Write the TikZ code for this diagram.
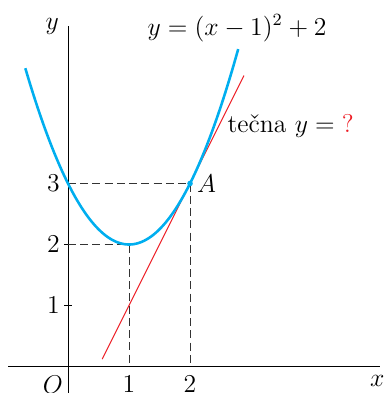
\documentclass[tikz,border=0pt]{standalone}
\usepackage{tikz}
\definecolor{curveblue}{RGB}{0,174,239}
\definecolor{tanred}{RGB}{237,28,36}
\begin{document}
\begin{tikzpicture}[x=1cm,y=1cm,
  axis/.style={line width=0.45pt,black},
  guide/.style={line width=0.45pt,black!80,dash pattern=on 3.7pt off 2pt},
  curve/.style={line width=1.2pt,curveblue},
  tangent/.style={line width=0.45pt,tanred},
  lab/.style={inner sep=0pt,font=\fontsize{12}{14}\selectfont}]
\useasboundingbox (-1.115,-0.434) rectangle (5.213,6.008);
% axes
\coordinate (xs) at (-0.98,0);
\coordinate (xe) at (5.11,0);
\coordinate (ys) at (0,-0.45);
\coordinate (ye) at (0,5.58);
\draw[axis] (xs) -- (xe);
\draw[axis] (ys) -- (ye);
% ticks
\draw[axis] (-0.06,1) -- (0.07,1);
\draw[axis] (-0.06,2) -- (0.07,2);
% guide points
\coordinate (P3) at (0,3);
\coordinate (P2) at (0,2);
\coordinate (V) at (1,2);
\coordinate (A) at (2,3);
\coordinate (X1) at (1,0);
\coordinate (X2) at (2,0);
\draw[guide] (P3) -- (A) -- (X2);
\draw[guide] (P2) -- (V) -- (X1);
% tangent
\draw[tangent,domain=0.56:2.885] plot (\x,{2*\x-1});
% parabola
\draw[curve,domain=-0.7:2.79,samples=80,smooth] plot (\x,{(\x-1)^2+2});
\fill[curveblue] (A) circle (1.3pt);
% labels
\node[lab] (ylab) at (-0.26,5.57) {$y$};
\node[lab] (xlab) at (5.07,-0.24) {$x$};
\node[lab,anchor=north] (O) at (-0.25,-0.14) {$O$};
\node[lab,anchor=north] (l1) at (1,-0.14) {$1$};
\node[lab,anchor=north] (l2) at (2,-0.14) {$2$};
\node[lab,anchor=east] (m1) at (-0.13,1) {$1$};
\node[lab,anchor=east] (m2) at (-0.13,2) {$2$};
\node[lab,anchor=east] (m3) at (-0.13,3) {$3$};
\node[lab,anchor=west] (Alab) at (2.11,3) {$A$};
\node[lab,anchor=base] (f) at (2.77,5.43) {$y=(x-1)^2+2$};
\node[lab,anchor=base west] (t) at (2.61,3.83) {te\v{c}na $y={}$\textcolor{tanred}{?}};
\end{tikzpicture}
\end{document}
